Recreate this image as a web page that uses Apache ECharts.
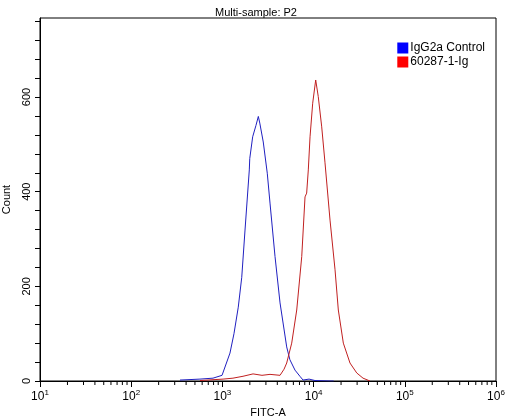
<!DOCTYPE html>
<html><head><meta charset="utf-8">
<script src="https://cdn.jsdelivr.net/npm/echarts@6/dist/echarts.min.js"></script>
<style>html,body{margin:0;padding:0;background:#fff}#c{width:512px;height:419px}</style>
</head><body><div id="c"></div>
<script>
const seriesNames = ['IgG2a Control', '60287-1-Ig'];
const blueLog = [2.535,2.754,2.897,2.996,3.083,3.127,3.174,3.212,3.248,3.295,3.30,3.332,3.368,3.394,3.41,3.448,3.492,3.522,3.577,3.632,3.705,3.74,3.796,3.85,3.884,3.95,4.015,4.18,4.2,4.22];
const blueCount = [2,4,6,12,59,100,156,219,319,446,470,516,540,559,545,505,439,376,263,165,72,45,23,10,2,4,1,0,2,0];
const redLog = [2.754,2.919,3.007,3.116,3.226,3.336,3.434,3.522,3.632,3.676,3.705,3.76,3.815,3.87,3.906,3.924,3.942,3.961,3.99,4.023,4.051,4.089,4.125,4.18,4.235,4.271,4.326,4.399,4.473,4.542,4.618];
const redCount = [1,3,4,6,10,15,12,14,12,25,38,80,150,263,389,397,446,516,587,636,601,537,461,340,235,150,80,38,17,6,0];
const xDecades = [1,2,3,4,5,6];
const yLabels = [0,200,400,600];
const minorX = [];
for (let d = 1; d <= 5; d++) for (let k = 2; k <= 9; k++) minorX.push([Math.log10(k * Math.pow(10, d)), 0]);

const chart = echarts.init(document.getElementById('c'));
chart.setOption({
  animation: false,
  textStyle: {fontFamily: 'Liberation Sans, Arial'},
  title: {text: 'Multi-sample: P2', left: 'center', top: 2, textStyle: {fontSize: 11, fontWeight: 'normal', color: '#000'}},
  legend: {orient: 'vertical', right: 22, top: 37, icon: 'rect', itemWidth: 11, itemHeight: 11, itemGap: 2,
    textStyle: {fontSize: 12, color: '#000', padding: [0,0,0,-3]}, data: seriesNames},
  grid: {left: 40, right: 16, top: 18, bottom: 38, containLabel: false, outerBoundsMode: 'none',
    show: true, borderColor: '#000', borderWidth: 1},
  xAxis: {type: 'value', min: 1, max: 6, interval: 1,
    name: 'FITC-A', nameLocation: 'middle', nameGap: 25, nameTextStyle: {fontSize: 11, color: '#000'},
    axisLine: {lineStyle: {color: '#000'}}, axisTick: {length: 6, lineStyle: {color: '#000'}},
    splitLine: {show: false},
    axisLabel: {color: '#000', fontSize: 12, margin: 8, formatter: v => '10{s|' + v + '}',
      rich: {s: {fontSize: 8, verticalAlign: 'top', padding: [0,0,8,0], color: '#000'}}}},
  yAxis: {type: 'value', min: 0, max: 767, interval: 40,
    name: 'Count', nameLocation: 'middle', nameGap: 28, nameTextStyle: {fontSize: 11, color: '#000'},
    axisLine: {show: true, lineStyle: {color: '#000'}}, axisTick: {length: 5, lineStyle: {color: '#000'}},
    splitLine: {show: false},
    axisLabel: {color: '#000', fontSize: 11, rotate: 90, margin: 8, showMaxLabel: false,
      formatter: v => yLabels.indexOf(v) >= 0 ? String(v) : ''}},
  series: [
    {name: seriesNames[0], type: 'line', symbol: 'none', color: '#0000ff', lineStyle: {width: 1, color: '#2020c0'},
      data: blueLog.map((x, i) => [x, blueCount[i]])},
    {name: seriesNames[1], type: 'line', symbol: 'none', color: '#ff0000', lineStyle: {width: 1, color: '#c02020'},
      data: redLog.map((x, i) => [x, redCount[i]])},
    {type: 'custom', silent: true, clip: false, data: minorX,
      renderItem: (params, api) => {
        const p = api.coord([api.value(0), 0]);
        return {type: 'line', shape: {x1: p[0], y1: p[1], x2: p[0], y2: p[1] + 4}, style: {stroke: '#000', lineWidth: 1}};
      }}
  ]
});
</script></body></html>
